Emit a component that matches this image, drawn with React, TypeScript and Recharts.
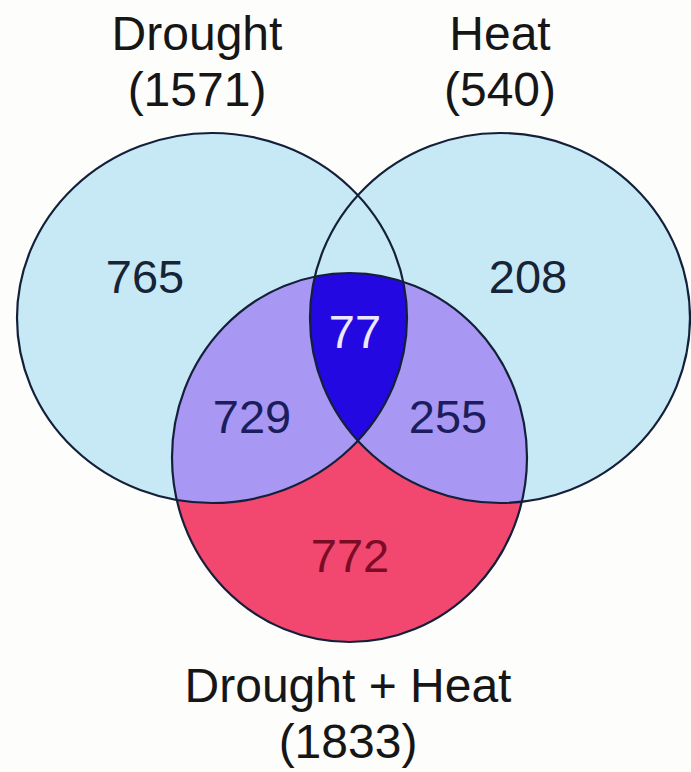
import { ScatterChart, Scatter, XAxis, YAxis } from 'recharts';

// sets and their totals
const SET_NAMES = ['Drought', 'Heat', 'Drought + Heat'];
const SET_TOTALS = [1571, 540, 1833];

// counts for each region of the diagram
const REGION_NAMES = ['Drought only', 'Heat only', 'All three', 'Drought & D+H', 'Heat & D+H', 'D+H only'];
const REGION_COUNTS = [765, 208, 77, 729, 255, 772];

const W = 691;
const H = 772;

// geometry of the diagram, in picture units (same as the axes' domain)
const CIRCLE_LAYOUT = [
  { x: 212, y: 318, rx: 195, ry: 185 },
  { x: 500, y: 318, rx: 190, ry: 185 },
  { x: 349.5, y: 457.5, rx: 177.5, ry: 184.5 },
];
const TITLE_LAYOUT = [
  { x: 197, y: 50 },
  { x: 500, y: 50 },
  { x: 348, y: 702 },
];
const TOTAL_OFFSET = 56;
const REGION_LAYOUT = [
  { x: 145, y: 293, color: '#172437' },
  { x: 528, y: 293, color: '#172437' },
  { x: 355, y: 348, color: '#eee8ff' },
  { x: 252, y: 433, color: '#1b1d5c' },
  { x: 448, y: 433, color: '#1b1d5c' },
  { x: 350, y: 572, color: '#7c0c26' },
];

const LIGHT = '#c7e9f6';
const LAVENDER = '#a898f3';
const BLUE = '#2308e2';
const PINK = '#f2476f';
const STROKE = '#14203a';
const FONT = '"Liberation Sans", Arial, Helvetica, sans-serif';

const circleData = CIRCLE_LAYOUT.map((c, i) => ({ ...c, name: SET_NAMES[i], idx: i }));

const titleData = TITLE_LAYOUT.flatMap((p, i) => [
  { x: p.x, y: p.y, text: SET_NAMES[i] },
  { x: p.x, y: p.y + TOTAL_OFFSET, text: `(${SET_TOTALS[i]})` },
]);

const regionData = REGION_LAYOUT.map((p, i) => ({
  x: p.x,
  y: p.y,
  text: String(REGION_COUNTS[i]),
  name: REGION_NAMES[i],
  color: p.color,
}));

const clipId = (i: number) => `venn-clip-${i}`;

function FillShape(props: any) {
  const { cx, cy, payload } = props;
  const { rx, ry, idx } = payload;
  const e = (fill: string) => <ellipse cx={cx} cy={cy} rx={rx} ry={ry} fill={fill} />;
  return (
    <g>
      <clipPath id={clipId(idx)}>
        <ellipse cx={cx} cy={cy} rx={rx} ry={ry} />
      </clipPath>
      {idx < 2 ? (
        e(LIGHT)
      ) : (
        <g>
          {e(PINK)}
          <g clipPath={`url(#${clipId(0)})`}>{e(LAVENDER)}</g>
          <g clipPath={`url(#${clipId(1)})`}>{e(LAVENDER)}</g>
          <g clipPath={`url(#${clipId(0)})`}>
            <g clipPath={`url(#${clipId(1)})`}>{e(BLUE)}</g>
          </g>
        </g>
      )}
    </g>
  );
}

function OutlineShape(props: any) {
  const { cx, cy, payload } = props;
  return <ellipse cx={cx} cy={cy} rx={payload.rx} ry={payload.ry} fill="none" stroke={STROKE} strokeWidth={2.2} />;
}

function TitleShape(props: any) {
  const { cx, cy, payload } = props;
  return (
    <text x={cx} y={cy} textAnchor="middle" fontFamily={FONT} fontSize={48} fill="#161616">
      {payload.text}
    </text>
  );
}

function CountShape(props: any) {
  const { cx, cy, payload } = props;
  return (
    <text x={cx} y={cy} textAnchor="middle" fontFamily={FONT} fontSize={47} fill={payload.color}>
      {payload.text}
    </text>
  );
}

export default function App() {
  return (
    <div style={{ position: 'absolute', left: 0, top: 0, width: W, height: H, background: '#fdfdfb' }}>
      <ScatterChart width={W} height={H} margin={{ top: 0, right: 0, bottom: 0, left: 0 }}>
        <XAxis type="number" dataKey="x" domain={[0, W]} hide />
        <YAxis type="number" dataKey="y" domain={[0, H]} reversed hide />
        <Scatter data={circleData} shape={FillShape} isAnimationActive={false} />
        <Scatter data={circleData} shape={OutlineShape} isAnimationActive={false} />
        <Scatter data={regionData} shape={CountShape} isAnimationActive={false} />
        <Scatter data={titleData} shape={TitleShape} isAnimationActive={false} />
      </ScatterChart>
    </div>
  );
}
